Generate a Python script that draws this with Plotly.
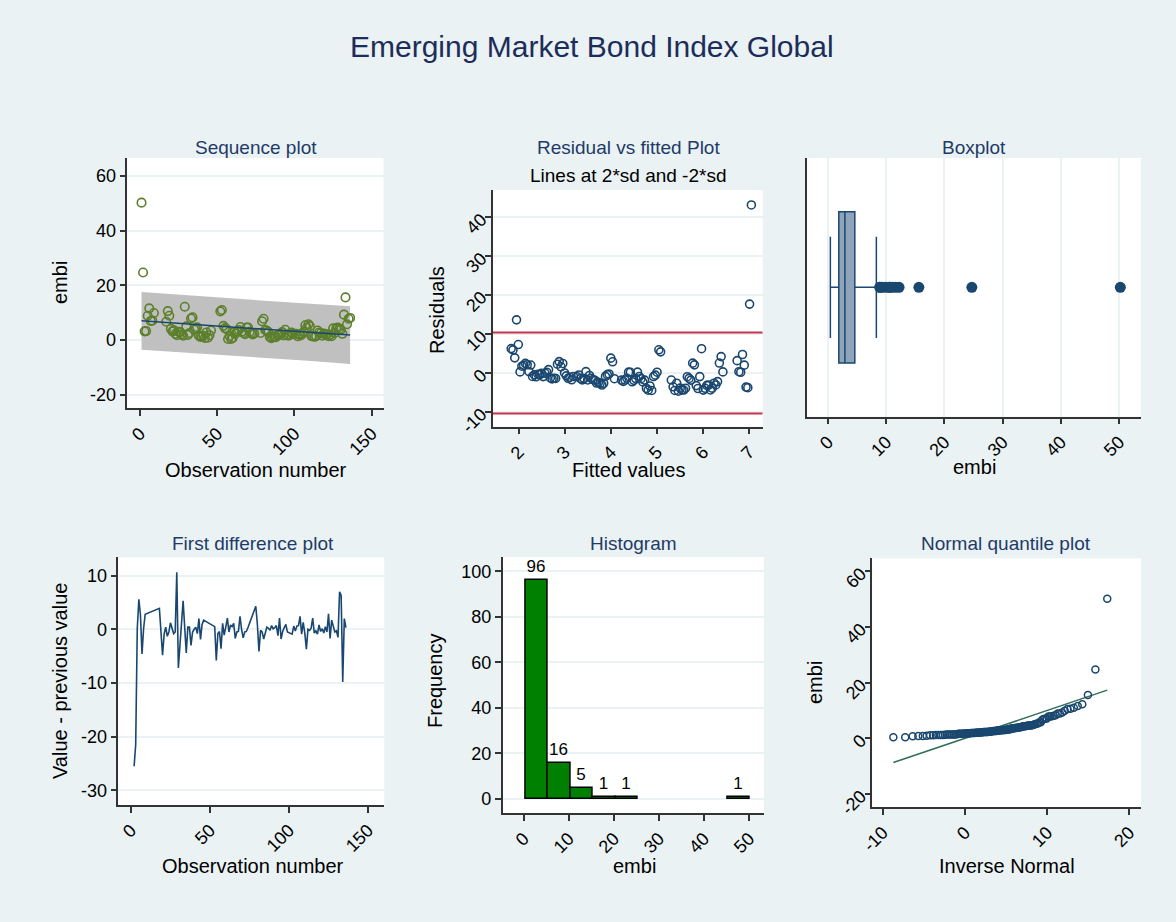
import numpy as np
import plotly.graph_objects as go
from statistics import NormalDist

# ---- data -------------------------------------------------------------
obs = list(range(1, 137))
embi = [
    50.2, 24.7, 3.2, 3.3, 8.9, 11.6, 7.0, 7.1, 9.9,                      # 1-9
    None, None, None, None, None, None, None,                          # 10-16
    6.7, 10.6, 8.9, 4.1, 3.2, 3.6, 2.3, 1.8, 3.0, 2.9, 2.1, 1.6, 12.2, 5.0,  # 17-30
    1.9, 2.6, 7.9, 8.3, 3.9, 4.3, 4.7, 1.7, 1.2, 1.2, 1.6, 0.8, 2.8, 0.9,
    1.8, 3.5,                                                          # 31-46
    None, None, None, None, None,                                      # 47-51
    10.5, 11.0, 5.2, 4.4, 4.0, 0.4, 1.5, 0.4, 0.8, 2.9, 2.4, 3.2, 3.7, 4.8,
    3.1, 2.6, 2.2, 4.6, 4.6, 3.0, 2.5, 2.1, 2.4,                       # 52-74
    None, None, None,                                                  # 75-77
    2.6, 6.9, 7.8, 3.7, 3.5, 3.0, 1.2, 0.7, 1.1, 1.3, 1.1, 1.8, 1.9, 2.2,
    2.9, 1.7, 3.8, 2.0, 1.6, 1.9, 2.8, 2.3,                            # 78-99
    None,                                                              # 100
    2.3, 1.4, 2.0, 1.7, 2.3, 3.0, 5.4, 4.5, 5.8, 5.1, 1.4, 1.4, 1.2, 1.4,
    3.5, 2.8, 2.5, 1.6, 2.4, 2.0, 2.1, 1.4, 1.9, 1.4, 4.3, 2.6, 4.3, 4.6,
    4.1, 3.8, 2.3, 9.3, 15.6, 5.8, 7.8, 8.1,                           # 101-136
]
assert len(embi) == len(obs)

hist_counts = [96, 16, 5, 1, 1, 0, 0, 0, 0, 1]

seq_yticks = [-20, 0, 20, 40, 60]
obs_ticks = [0, 50, 100, 150]
resid_yticks = [-10, 0, 10, 20, 30, 40]
fitted_ticks = [2, 3, 4, 5, 6, 7]
embi_ticks = [0, 10, 20, 30, 40, 50]
diff_yticks = [-30, -20, -10, 0, 10]
freq_ticks = [0, 20, 40, 60, 80, 100]
invn_ticks = [-10, 0, 10, 20]

# ---- derived series ----------------------------------------------------
o = np.array([t for t, v in zip(obs, embi) if v is not None], float)
y = np.array([v for v in embi if v is not None], float)
n = len(y)

slope, intercept = np.polyfit(o, y, 1)
fitted = intercept + slope * o
resid = y - fitted
s = np.sqrt(np.sum(resid ** 2) / (n - 2))
sxx = np.sum((o - o.mean()) ** 2)
grid_o = np.linspace(o.min(), o.max(), 60)
grid_fit = intercept + slope * grid_o
se_f = s * np.sqrt(1 + 1 / n + (grid_o - o.mean()) ** 2 / sxx)
band_hi = grid_fit + 1.98 * se_f
band_lo = grid_fit - 1.98 * se_f
sd_res = np.std(resid, ddof=1)

diff = [None] + [
    (embi[i] - embi[i - 1]) if (embi[i] is not None and embi[i - 1] is not None) else None
    for i in range(1, len(embi))
]

edges = np.linspace(y.min(), y.max(), len(hist_counts) + 1)
centers = (edges[:-1] + edges[1:]) / 2
bw = edges[1] - edges[0]

ys = np.sort(y)
mu, sd = y.mean(), y.std(ddof=1)
nd = NormalDist()
qx = np.array([mu + sd * nd.inv_cdf(i / (n + 1)) for i in range(1, n + 1)])

# ---- styling -----------------------------------------------------------
W, H = 1176, 922
BG = "#EAF2F3"
NAVY = "#1A476F"
FONT = "Liberation Sans, Arial, sans-serif"


def dx(a, b):
    return [a / W, b / W]


def dy(top, bottom):
    return [1 - bottom / H, 1 - top / H]


def lab(vals):
    return [str(v) for v in vals]


def axis(domain, rng, tv=None, angle=0, grid=False, anchor=None, **kw):
    d = dict(
        domain=domain, range=rng, showline=True, linecolor="#333333", linewidth=1.5,
        ticks="outside", ticklen=6, tickwidth=1.5, tickcolor="#333333",
        tickfont=dict(size=18, color="black", family=FONT), zeroline=False,
        showgrid=grid, gridcolor=BG, gridwidth=1.5, tickangle=angle, anchor=anchor,
        automargin=False,
    )
    if tv is not None:
        d.update(tickmode="array", tickvals=tv, ticktext=lab(tv))
    d.update(kw)
    return d


fig = go.Figure()

# Sequence plot
fig.add_trace(go.Scatter(x=grid_o, y=band_hi, mode="lines", line=dict(width=0),
                         xaxis="x", yaxis="y", hoverinfo="skip"))
fig.add_trace(go.Scatter(x=grid_o, y=band_lo, mode="lines", line=dict(width=0),
                         fill="tonexty", fillcolor="#C0C0C0", xaxis="x", yaxis="y",
                         hoverinfo="skip"))
fig.add_trace(go.Scatter(x=o, y=y, mode="markers", xaxis="x", yaxis="y",
                         marker=dict(symbol="circle-open", size=8.5, color="#5B7F2B",
                                     line=dict(width=1.6))))
fig.add_trace(go.Scatter(x=grid_o, y=grid_fit, mode="lines", xaxis="x", yaxis="y",
                         line=dict(color=NAVY, width=1.5)))

# Residual vs fitted
for lvl in (2 * sd_res, -2 * sd_res):
    fig.add_trace(go.Scatter(x=[1.436, 7.29], y=[lvl, lvl], mode="lines",
                             xaxis="x2", yaxis="y2",
                             line=dict(color="#C8354F", width=2)))
fig.add_trace(go.Scatter(x=fitted, y=resid, mode="markers", xaxis="x2", yaxis="y2",
                         marker=dict(symbol="circle-open", size=8, color=NAVY,
                                     line=dict(width=1.6))))

# Boxplot
fig.add_trace(go.Box(x=y, y0=0, orientation="h", xaxis="x3", yaxis="y3",
                     boxpoints="outliers", width=0.585, whiskerwidth=0.67,
                     fillcolor="#8FA4BA", line=dict(color=NAVY, width=1.5),
                     marker=dict(color=NAVY, size=11)))

# First difference
fig.add_trace(go.Scatter(x=obs, y=diff, mode="lines", connectgaps=True,
                         xaxis="x4", yaxis="y4", line=dict(color=NAVY, width=1.6)))

# Histogram (empty bins drawn without outline)
fig.add_trace(go.Bar(x=centers, y=hist_counts, width=bw, xaxis="x5", yaxis="y5",
                     marker=dict(color="#008000",
                                 line=dict(color="black",
                                           width=[1.5 if c else 0 for c in hist_counts])),
                     text=[str(c) if c else "" for c in hist_counts],
                     textposition="outside", cliponaxis=False,
                     textfont=dict(size=17, color="black", family=FONT)))

# Normal quantile plot
fig.add_trace(go.Scatter(x=[qx.min(), qx.max()], y=[qx.min(), qx.max()], mode="lines",
                         xaxis="x6", yaxis="y6", line=dict(color="#2F6F57", width=1.5)))
fig.add_trace(go.Scatter(x=qx, y=ys, mode="markers", xaxis="x6", yaxis="y6",
                         marker=dict(symbol="circle-open", size=7, color=NAVY,
                                     line=dict(width=1.5))))

fig.update_layout(
    width=W, height=H, margin=dict(l=0, r=0, t=0, b=0),
    paper_bgcolor=BG, plot_bgcolor="white", showlegend=False,
    font=dict(family=FONT, color="black"), bargap=0,
    xaxis=axis(dx(127.3, 383.5), [-8.2, 157.6], obs_ticks, -45, anchor="y"),
    yaxis=axis(dy(158, 408.3), [-24.9, 66.5], seq_yticks, 0, True, anchor="x"),
    xaxis2=axis(dx(492.7, 762.7), [1.436, 7.29], fitted_ticks, -45, anchor="y2"),
    yaxis2=axis(dy(190, 426.7), [-13.8, 47.0], resid_yticks, -45, True, anchor="x2"),
    xaxis3=axis(dx(807.3, 1140.7), [-3.56, 53.7], embi_ticks, -45, True, anchor="y3"),
    yaxis3=axis(dy(158, 416.7), [-0.5, 0.5], None, 0, False, anchor="x3",
                ticks="", showticklabels=False),
    xaxis4=axis(dx(118.3, 384.3), [-8.0, 160.3], obs_ticks, -45, anchor="y4"),
    yaxis4=axis(dy(557.3, 805), [-32.7, 13.4], diff_yticks, 0, True, anchor="x4"),
    xaxis5=axis(dx(502.7, 764), [-4.66, 53.3], embi_ticks, -45, anchor="y5"),
    yaxis5=axis(dy(557, 813.3), [-6.3, 106.3], freq_ticks, 0, True, anchor="x5"),
    xaxis6=axis(dx(872.3, 1141), [-11.27, 21.42], invn_ticks, -45, anchor="y6"),
    yaxis6=axis(dy(558.3, 807.3), [-24.8, 64.7], seq_yticks, -45, False, anchor="x6"),
)


def note(text, x, y, size=20, color="black", angle=0):
    fig.add_annotation(text=text, x=x / W, y=1 - y / H, xref="paper", yref="paper",
                       showarrow=False, textangle=angle, xanchor="center", yanchor="middle",
                       font=dict(size=size, color=color, family=FONT))


TITLE_C = "#1C2D5A"
SUB_C = "#1F3A68"
note("Emerging Market Bond Index Global", 592, 46, 30, TITLE_C)

note("Sequence plot", 256, 147, 19, SUB_C)
note("Residual vs fitted Plot", 628, 147, 19, SUB_C)
note("Lines at 2*sd and -2*sd", 628, 176, 19, "black")
note("Boxplot", 974, 147, 19, SUB_C)
note("First difference plot", 253, 543, 19, SUB_C)
note("Histogram", 633, 543, 19, SUB_C)
note("Normal quantile plot", 1006, 543, 19, SUB_C)

note("embi", 60, 283, angle=-90)
note("Observation number", 256, 470)
note("Residuals", 437, 310, angle=-90)
note("Fitted values", 628, 470)
note("embi", 974, 467)
note("Value - previous value", 60, 681, angle=-90)
note("Observation number", 253, 866)
note("Frequency", 435, 681, angle=-90)
note("embi", 634, 866)
note("embi", 815, 683, angle=-90)
note("Inverse Normal", 1007, 866)

fig.write_html("out.html")
